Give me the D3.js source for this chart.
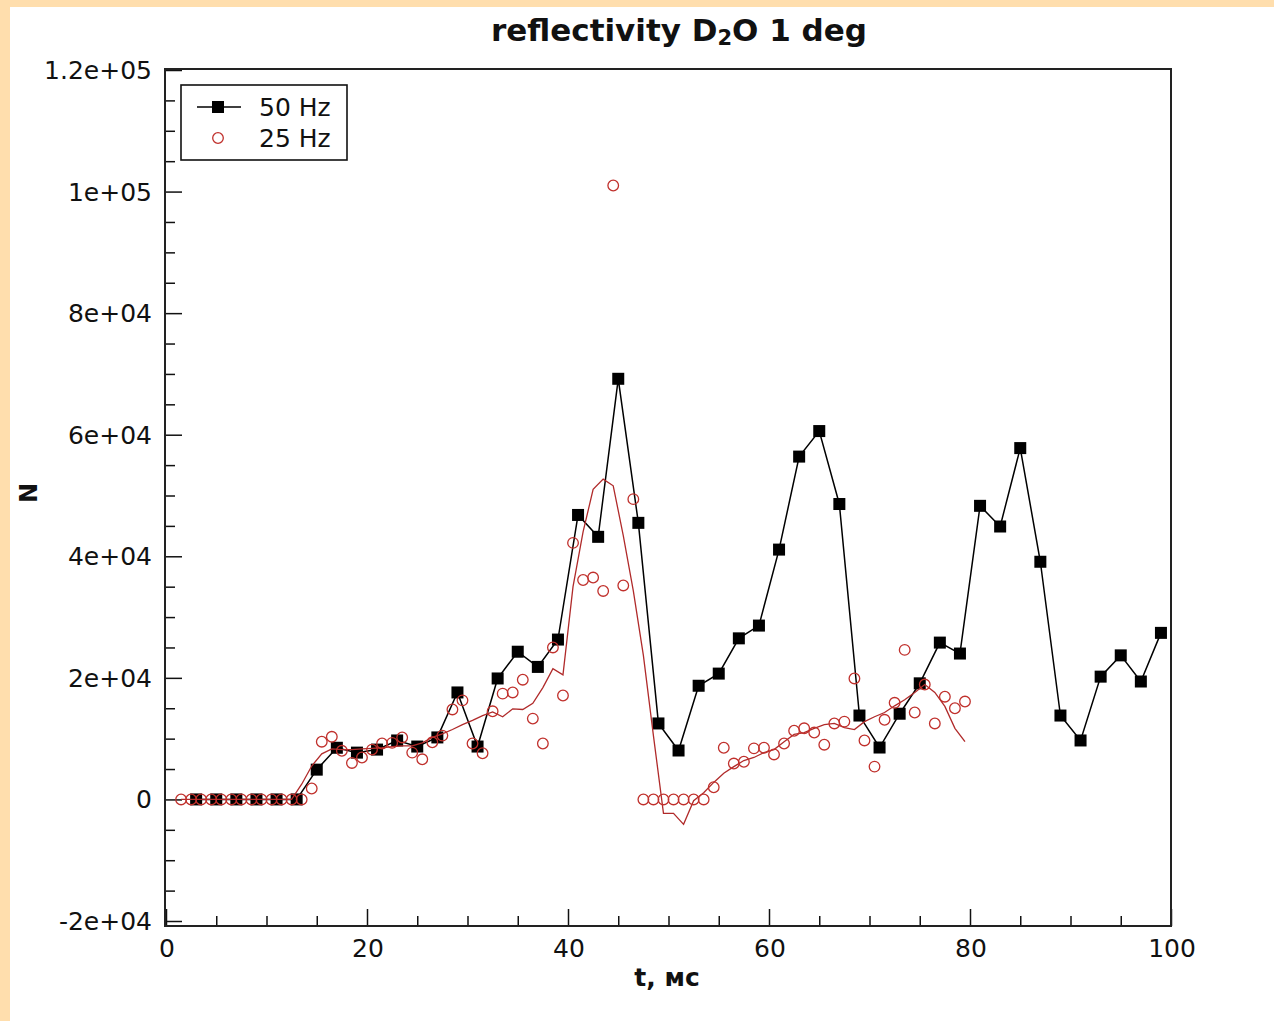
<!DOCTYPE html>
<html>
<head>
<meta charset="utf-8">
<script src="https://cdn.jsdelivr.net/npm/d3@7"></script>
<style>
  html, body { margin: 0; padding: 0; background: #ffdead; }
  #app { position: absolute; left: 10px; top: 7px; width: 1264px; height: 1014px; background: #fff; }
  svg { position: absolute; left: 0; top: 0; }
  text { font-family: "DejaVu Sans", sans-serif; fill: #111; }
</style>
</head>
<body>
<div id="app"></div>
<script>
// 50 Hz: black squares with line
const t50 = [3,5,7,9,11,13,15,17,19,21,23,25,27,29,31,33,35,37,39,41,43,45,47,49,51,53,55,57,59,61,63,65,67,69,71,73,75,77,79,81,83,85,87,89,91,93,95,97,99]
const n50 = [0,0,0,0,0,0,4900,8500,7700,8200,9700,8700,10200,17600,8700,19900,24300,21800,26300,46800,43200,69200,45500,12500,8050,18700,20700,26500,28600,41100,56400,60600,48600,13800,8540,14100,19100,25800,24000,48300,44900,57800,39100,13800,9700,20200,23700,19400,27400]

// 25 Hz: red open circles plus a thin red curve
const t25 = [1.5,2.5,3.5,4.5,5.5,6.5,7.5,8.5,9.5,10.5,11.5,12.5,13.5,14.5,15.5,16.5,17.5,18.5,19.5,20.5,21.5,22.5,23.5,24.5,25.5,26.5,27.5,28.5,29.5,30.5,31.5,32.5,33.5,34.5,35.5,36.5,37.5,38.5,39.5,40.5,41.5,42.5,43.5,44.5,45.5,46.5,47.5,48.5,49.5,50.5,51.5,52.5,53.5,54.5,55.5,56.5,57.5,58.5,59.5,60.5,61.5,62.5,63.5,64.5,65.5,66.5,67.5,68.5,69.5,70.5,71.5,72.5,73.5,74.5,75.5,76.5,77.5,78.5,79.5]
const n25 = [0,0,0,0,0,0,0,0,0,0,0,0,0,1800,9500,10300,8000,6000,6900,8200,9200,9300,10200,7700,6600,9400,10500,14800,16300,9200,7600,14500,17400,17600,19700,13300,9200,25000,17100,42200,36100,36500,34300,101000,35200,49400,0,0,0,0,0,0,0,2000,8500,5900,6200,8400,8500,7400,9200,11300,11700,11000,9000,12500,12800,19900,9700,5400,13100,15900,24600,14300,18900,12500,16900,15000,16100]
const curve25 = [0,0,0,0,0,0,0,0,0,0,0,0,2500,5500,7500,8300,8200,8200,8300,8400,8500,8700,8800,8800,9300,10200,10800,11500,12300,13000,13800,14400,13600,14900,14800,15800,18400,21500,20500,35000,44000,51000,52700,51600,43400,34300,23700,10500,-2300,-2300,-4100,-200,1100,2800,4300,5400,6400,6900,7700,8200,9500,10700,11000,11700,12300,12500,11800,11500,12800,13600,14300,15400,16400,17600,18900,17600,15300,11700,9500]

const xTicks = [0, 20, 40, 60, 80, 100]
const yTicks = [-20000, 0, 20000, 40000, 60000, 80000, 100000, 120000]
const yTickLabels = ['-2e+04', '0', '2e+04', '4e+04', '6e+04', '8e+04', '1e+05', '1.2e+05']
const seriesNames = ['50 Hz', '25 Hz']

// page coords are shifted by the white panel offset (10, 7)
const ox = 10, oy = 7
const plotL = 165 - ox, plotR = 1171 - ox
const plotT = 69 - oy, plotB = 926 - oy

const x = d3.scaleLinear().domain([0, 100]).range([plotL + 1, plotR])
const y = d3.scaleLinear().domain([-20000, 120000]).range([921 - oy, 70 - oy])

const svg = d3.select('#app')
.append('svg')
.attr('width', 1264)
.attr('height', 1014)

// title
const title = svg.append('text')
.attr('x', 679 - ox)
.attr('y', 41 - oy)
.attr('text-anchor', 'middle')
.style('font-size', '31px')
.style('font-weight', 'bold')
title.append('tspan').text('reflectivity D')
title.append('tspan').attr('dy', 4).style('font-size', '21px').text('2')
title.append('tspan').attr('dy', -4).text('O 1 deg')

// axes, ticks pointing inward
const xAxis = svg.append('g')
.attr('transform', `translate(0,${plotB})`)
.call(d3.axisBottom(x).tickValues(d3.range(0, 101, 5)).tickSize(-10).tickFormat(''))
xAxis.selectAll('.tick line').filter(d => d % 20 === 0).attr('y2', -17)
xAxis.select('.domain').remove()
xAxis.selectAll('.tick line').attr('stroke', '#111').attr('stroke-width', 1.5)

svg.append('g')
.selectAll('text')
.data(xTicks)
.join('text')
.attr('x', d => x(d) + 1)
.attr('y', 957 - oy)
.attr('text-anchor', 'middle')
.style('font-size', '25px')
.text(d => d)

const yAxis = svg.append('g')
.attr('transform', `translate(${plotL},0)`)
.call(d3.axisLeft(y).tickValues(d3.range(-20000, 120001, 5000)).tickSize(-10).tickFormat(''))
yAxis.selectAll('.tick line').filter(d => d % 20000 === 0).attr('x2', 17)
yAxis.select('.domain').remove()
yAxis.selectAll('.tick line').attr('stroke', '#111').attr('stroke-width', 1.5)

svg.append('g')
.selectAll('text')
.data(yTicks)
.join('text')
.attr('x', 152 - ox)
.attr('y', d => y(d) + 9)
.attr('text-anchor', 'end')
.style('font-size', '25px')
.text((d, i) => yTickLabels[i])

// axis titles
svg.append('text')
.attr('x', 667 - ox)
.attr('y', 986 - oy)
.attr('text-anchor', 'middle')
.style('font-size', '25px')
.style('font-weight', 'bold')
.text('t, мс')

svg.append('text')
.attr('transform', `translate(${37 - ox},${493 - oy}) rotate(-90)`)
.attr('text-anchor', 'middle')
.style('font-size', '24px')
.style('font-weight', 'bold')
.text('N')

// 50 Hz series
const d50 = t50.map((t, i) => [t, n50[i]])
svg.append('path')
.datum(d50)
.attr('fill', 'none')
.attr('stroke', '#000')
.attr('stroke-width', 1.5)
.attr('d', d3.line().x(d => x(d[0])).y(d => y(d[1])))

svg.append('g')
.selectAll('rect')
.data(d50)
.join('rect')
.attr('x', d => x(d[0]) - 6)
.attr('y', d => y(d[1]) - 6)
.attr('width', 12)
.attr('height', 12)
.attr('fill', '#000')

// 25 Hz curve and points
const c25 = t25.map((t, i) => [t, curve25[i]])
svg.append('path')
.datum(c25)
.attr('fill', 'none')
.attr('stroke', '#b02a2a')
.attr('stroke-width', 1.3)
.attr('d', d3.line().x(d => x(d[0])).y(d => y(d[1])))

const d25 = t25.map((t, i) => [t, n25[i]])
svg.append('g')
.selectAll('circle')
.data(d25)
.join('circle')
.attr('cx', d => x(d[0]))
.attr('cy', d => y(d[1]))
.attr('r', 5.3)
.attr('fill', 'none')
.attr('stroke', '#c0302c')
.attr('stroke-width', 1.3)

// frame
svg.append('rect')
.attr('x', plotL)
.attr('y', plotT)
.attr('width', plotR - plotL)
.attr('height', plotB - plotT)
.attr('fill', 'none')
.attr('stroke', '#222')
.attr('stroke-width', 2)

// legend
const lg = svg.append('g').attr('transform', `translate(${181 - ox},${85 - oy})`)
lg.append('rect')
.attr('width', 166)
.attr('height', 75)
.attr('fill', '#fff')
.attr('stroke', '#111')
.attr('stroke-width', 1.6)

lg.append('line')
.attr('x1', 16).attr('x2', 60)
.attr('y1', 22).attr('y2', 22)
.attr('stroke', '#000').attr('stroke-width', 1.6)
lg.append('rect')
.attr('x', 31).attr('y', 16)
.attr('width', 12).attr('height', 12)
.attr('fill', '#000')
lg.append('circle')
.attr('cx', 37).attr('cy', 53).attr('r', 5.3)
.attr('fill', 'none').attr('stroke', '#c0302c').attr('stroke-width', 1.3)

lg.selectAll('text.lab')
.data(seriesNames)
.join('text')
.attr('class', 'lab')
.attr('x', 78)
.attr('y', (d, i) => 31 + i * 31)
.style('font-size', '25px')
.text(d => d)
</script>
</body>
</html>
